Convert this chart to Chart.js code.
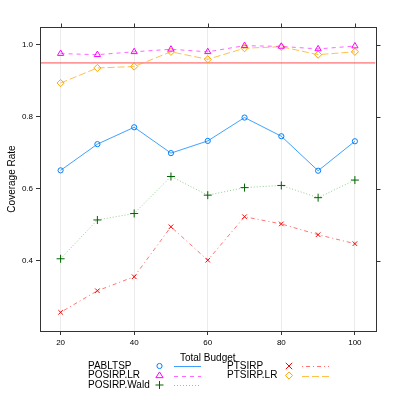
<!DOCTYPE html>
<html><head><meta charset="utf-8">
<script src="https://cdn.jsdelivr.net/npm/chart.js@4/dist/chart.umd.min.js"></script>
<style>html,body{margin:0;padding:0;background:#fff;overflow:hidden}canvas{display:block}</style>
</head><body>
<canvas id="c" width="399" height="399" style="width:399px;height:399px"></canvas>
<script>
const budgets = [20, 30, 40, 50, 60, 70, 80, 90, 100];
const xTicks = [20, 40, 60, 80, 100];
const yTicks = [0.4, 0.6, 0.8, 1.0];
const xMin = 14.4, xMax = 105.6;
const refLevel = 0.95;
const PABLTSP     = [0.651, 0.724, 0.771, 0.699, 0.733, 0.798, 0.746, 0.650, 0.732];
const POSIRP_LR   = [0.976, 0.973, 0.981, 0.988, 0.981, 0.998, 0.996, 0.989, 0.997];
const POSIRP_Wald = [0.405, 0.513, 0.531, 0.634, 0.582, 0.603, 0.609, 0.575, 0.624];
const PTSIRP      = [0.256, 0.316, 0.355, 0.494, 0.401, 0.522, 0.502, 0.472, 0.447];
const PTSIRP_LR   = [0.894, 0.936, 0.940, 0.981, 0.960, 0.991, 0.995, 0.973, 0.981];

const FONT = '"Liberation Sans", Arial, Helvetica, sans-serif';

const series = [
  {label:'PABLTSP',     vals:PABLTSP,     color:'#0080ff', line:'rgba(0,128,255,0.75)',  dash:[],        shape:'circle',   r:2.6},
  {label:'POSIRP.LR',   vals:POSIRP_LR,   color:'#ff00ff', line:'rgba(255,0,255,0.6)',   dash:[4,4],     shape:'triangle', r:3.6},
  {label:'POSIRP.Wald', vals:POSIRP_Wald, color:'#006400', line:'rgba(0,150,0,0.45)',    dash:[1,2],     shape:'cross',    r:4},
  {label:'PTSIRP',      vals:PTSIRP,      color:'#ff0000', line:'rgba(255,0,0,0.55)',    dash:[1,3,4,3], shape:'crossRot', r:3.2},
  {label:'PTSIRP.LR',   vals:PTSIRP_LR,   color:'#ffa500', line:'rgba(255,165,0,0.7)',   dash:[7,3],     shape:'rectRot',  r:3.6}
];

function drawShape(ctx, shape, x, y, r, color){
  ctx.save();
  ctx.strokeStyle = color; ctx.lineWidth = 1; ctx.setLineDash([]);
  ctx.beginPath();
  if(shape==='circle'){ ctx.arc(x,y,r,0,Math.PI*2); }
  else if(shape==='triangle'){
    ctx.moveTo(x, y - r); ctx.lineTo(x + r, y + r*0.6); ctx.lineTo(x - r, y + r*0.6); ctx.closePath();
  }
  else if(shape==='cross'){ ctx.moveTo(x-r,y); ctx.lineTo(x+r,y); ctx.moveTo(x,y-r); ctx.lineTo(x,y+r); }
  else if(shape==='crossRot'){ ctx.moveTo(x-r,y-r); ctx.lineTo(x+r,y+r); ctx.moveTo(x+r,y-r); ctx.lineTo(x-r,y+r); }
  else if(shape==='rectRot'){ ctx.moveTo(x,y-r); ctx.lineTo(x+r,y); ctx.lineTo(x,y+r); ctx.lineTo(x-r,y); ctx.closePath(); }
  ctx.stroke();
  ctx.restore();
}

const framePlugin = {
  id:'frame',
  afterDraw(chart){
    const {ctx, chartArea:a, scales:{x, y}} = chart;
    ctx.save();
    ctx.setLineDash([]);
    ctx.strokeStyle = '#333'; ctx.lineWidth = 1;
    const L = Math.round(a.left)+0.5, R = Math.round(a.right)+0.5, T = Math.round(a.top)+0.5, B = Math.round(a.bottom)+0.5;
    ctx.strokeRect(L, T, R-L, B-T);
    ctx.beginPath();
    xTicks.forEach(v => { const px = Math.round(x.getPixelForValue(v))+0.5; ctx.moveTo(px, T); ctx.lineTo(px, T-4); });
    yTicks.forEach(v => { const py = Math.round(y.getPixelForValue(v))+0.5; ctx.moveTo(R, py); ctx.lineTo(R+4, py); });
    ctx.stroke();
    ctx.fillStyle = '#000';
    ctx.font = '10px ' + FONT;
    ctx.textAlign = 'center'; ctx.textBaseline = 'middle';
    ctx.fillText('Total Budget', (a.left + a.right)/2, 358);
    ctx.save();
    ctx.translate(12, (a.top + a.bottom)/2);
    ctx.rotate(-Math.PI/2);
    ctx.fillText('Coverage Rate', 0, 0);
    ctx.restore();
    const cols = [
      {tx:88, mx:159.5, l1:174, l2:201},
      {tx:227, mx:289, l1:302, l2:329}
    ];
    const rows = [366, 375.5, 385];
    series.forEach((s, i) => {
      const c = cols[i < 3 ? 0 : 1];
      const yy = rows[i < 3 ? i : i - 3];
      ctx.fillStyle = '#000'; ctx.textAlign = 'left'; ctx.textBaseline = 'middle';
      ctx.font = '10px ' + FONT;
      ctx.fillText(s.label, c.tx, yy);
      drawShape(ctx, s.shape, c.mx, yy, s.r, s.color);
      ctx.save();
      ctx.strokeStyle = s.line; ctx.lineWidth = 1; ctx.setLineDash(s.dash);
      ctx.beginPath(); ctx.moveTo(c.l1, Math.round(yy)+0.5); ctx.lineTo(c.l2, Math.round(yy)+0.5); ctx.stroke();
      ctx.restore();
    });
    ctx.restore();
  }
};

const datasets = series.map(s => ({
  label: s.label,
  data: budgets.map((b, i) => ({x: b, y: s.vals[i]})),
  borderColor: s.line,
  borderWidth: 1,
  borderDash: s.dash,
  tension: 0,
  fill: false,
  pointStyle: s.shape,
  pointRadius: s.r,
  pointHoverRadius: s.r,
  pointBorderColor: s.color,
  pointBackgroundColor: 'rgba(0,0,0,0)',
  pointBorderWidth: 1
}));

datasets.push({
  label: 'reference',
  data: [{x: xMin, y: refLevel}, {x: xMax, y: refLevel}],
  borderColor: '#ff4d4d',
  backgroundColor: '#ff4d4d',
  borderWidth: 1,
  pointRadius: 0,
  fill: false,
  tension: 0,
  order: 10
});

new Chart(document.getElementById('c'), {
  type: 'line',
  data: { datasets },
  plugins: [framePlugin],
  options: {
    responsive: false,
    animation: false,
    devicePixelRatio: 1,
    layout: { autoPadding: false, padding: {left: 0, top: 27, right: 23.5, bottom: 0} },
    plugins: { legend: {display: false}, tooltip: {enabled: false} },
    scales: {
      x: {
        type: 'linear', min: xMin, max: xMax,
        afterFit(s){ s.height = 68; },
        afterBuildTicks(s){ s.ticks = xTicks.map(v => ({value: v})); },
        grid: { color: '#ebebeb', tickColor: '#333', tickLength: 4, drawOnChartArea: true },
        border: { display: true, color: '#333' },
        ticks: { color: '#000', font: {family: FONT, size: 8}, padding: 3, maxRotation: 0, callback: v => String(v) }
      },
      y: {
        type: 'linear', min: 0.204, max: 1.05,
        afterFit(s){ s.width = 40; },
        afterBuildTicks(s){ s.ticks = yTicks.map(v => ({value: v})); },
        grid: { drawOnChartArea: false, tickColor: '#333', tickLength: 4 },
        border: { display: true, color: '#333' },
        ticks: { color: '#000', font: {family: FONT, size: 8}, padding: 3, callback: v => Number(v).toFixed(1) }
      }
    }
  }
});
</script>
</body></html>
